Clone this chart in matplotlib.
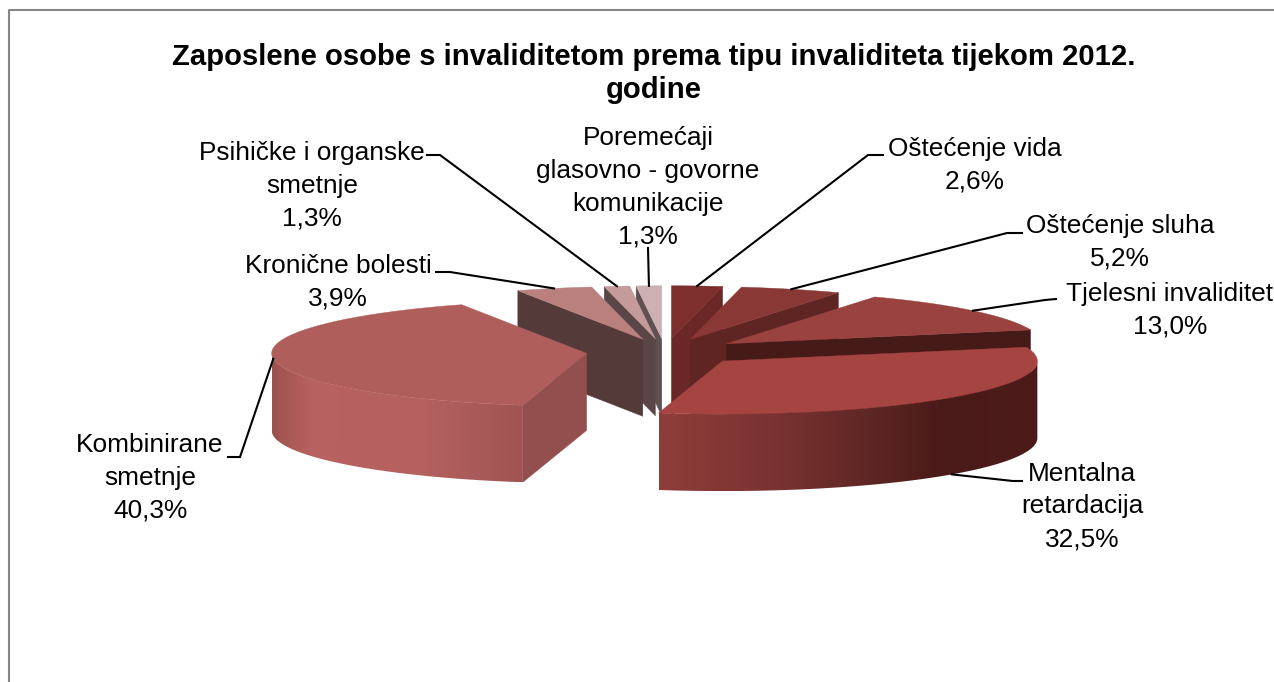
import numpy as np
import matplotlib
matplotlib.use('Agg')
import matplotlib.pyplot as plt
from matplotlib.colors import to_rgb
from matplotlib.patches import Polygon

plt.rcParams['font.family'] = ['Liberation Sans', 'DejaVu Sans']

# Podaci
naslov = 'Zaposlene osobe s invaliditetom prema tipu invaliditeta tijekom 2012.\ngodine'
kategorije = ['Oštećenje vida', 'Oštećenje sluha', 'Tjelesni invaliditet', 'Mentalna\nretardacija',
              'Kombinirane\nsmetnje', 'Kronične bolesti', 'Psihičke i organske\nsmetnje',
              'Poremećaji\nglasovno - govorne\nkomunikacije']
postoci = [2.6, 5.2, 13.0, 32.5, 40.3, 3.9, 1.3, 1.3]

# Boje: gornja ploha, rez
boje_gore = ['#7C2F2D', '#8A3835', '#9A423F', '#A64442', '#AF5E5B', '#BA807D', '#C49B9A', '#CDB1B2']
boje_rez = ['#6B2726', '#5F2523', '#451A17', '#451A17', '#934F4E', '#553A3A', '#5A4646', '#5F5151']
# Gradijent vanjske stijenke (po x)
stijenka = {3: [(0, '#8E3D3A'), (.3, '#7A3331'), (.55, '#5F2725'), (.75, '#4A1A18'), (1, '#4D1C1A')],
            4: [(0, '#9C514E'), (.15, '#B86260'), (.6, '#B46160'), (1, '#A05452')]}

# Geometrija pite u pikselima slike
CX, CY = 665, 352
RX, RY = 315, 53
H = 77
EXPLODE = 0.25

# Pozicije tekstova (sredina bloka) i prijelomi vodilica
tekst_xy = [(975, 165), (1120, 242.5), (1170, 310), (1082, 506.5), (150, 478), (338, 282.5), (312, 186), (648, 187.5)]
vodilice = [[(883, 155), (868, 155)], [(1022, 233), (1007, 233)], [(1056, 299), (1045, 300)],
            [(1022, 481), (1013, 481)], [(228, 457), (240, 457)], [(436, 272), (450, 272)],
            [(427, 155), (440, 155)], [(648, 248)]]

fig = plt.figure(figsize=(12.74, 6.82), dpi=100)
ax = fig.add_axes([0, 0, 1, 1])
ax.axis('off')

# Okvir
ax.plot([8.5, 8.5, 1290], [700, 9.5, 9.5], color='#868686', lw=1.5, clip_on=False, zorder=1)

ukupno = sum(postoci)
kutevi = np.concatenate([[0], np.cumsum(postoci)]) / ukupno * 360


def tocka(ox, oy, a, r=1.0):
    a = np.radians(a)
    return ox + r * RX * np.sin(a), oy - r * RY * np.cos(a)


def mix(stops, t):
    ts = [s[0] for s in stops]
    cs = np.array([to_rgb(s[1]) for s in stops])
    return np.stack([np.interp(t, ts, cs[:, i]) for i in range(3)], axis=-1)


centri = []
for i in range(len(postoci)):
    sred = (kutevi[i] + kutevi[i + 1]) / 2
    centri.append(tocka(CX, CY, sred, EXPLODE))

# Redoslijed crtanja: straga prema naprijed
redoslijed = [7, 6, 5, 0, 1, 2, 4, 3]
z = 2
for i in redoslijed:
    a0, a1 = kutevi[i], kutevi[i + 1]
    ox, oy = centri[i]

    # Radijalni rezovi
    for a, vidljiv in ((a0, np.sin(np.radians(a0)) < -1e-6), (a1, np.sin(np.radians(a1)) > 1e-6)):
        if vidljiv:
            px, py = tocka(ox, oy, a)
            ax.fill([ox, px, px, ox], [oy, py, py + H, oy + H], color=boje_rez[i],
                    lw=0.3, zorder=z)
            z += 1

    # Vanjska stijenka
    lo, hi = max(a0, 90), min(a1, 270)
    if hi > lo:
        t_kut = np.linspace(lo, hi, 120)
        xs, ys = tocka(ox, oy, t_kut)
        slika = mix(stijenka[i], np.linspace(0, 1, 256))[None, :, :]
        im = ax.imshow(slika, extent=(xs.min(), xs.max(), ys.max() + H, ys.min()),
                       aspect='auto', zorder=z, interpolation='bilinear')
        obris = Polygon(np.c_[np.r_[xs, xs[::-1]], np.r_[ys, ys[::-1] + H]],
                        closed=True, transform=ax.transData, fc='none', ec='none')
        ax.add_patch(obris)
        im.set_clip_path(obris)
        z += 1

    # Gornja ploha
    t_kut = np.linspace(a0, a1, 100)
    xs, ys = tocka(ox, oy, t_kut)
    ax.fill(np.r_[ox, xs], np.r_[oy, ys], color=boje_gore[i], lw=0.3, zorder=z)
    z += 1

# Vodilice i tekstovi
for i, naziv in enumerate(kategorije):
    sred = (kutevi[i] + kutevi[i + 1]) / 2
    ax_x, ax_y = tocka(*centri[i], sred)
    if i == 3:
        ax_y += H
    tocke = vodilice[i] + [(ax_x, ax_y)]
    ax.plot([p[0] for p in tocke], [p[1] for p in tocke], color='black', lw=1.5,
            zorder=z, solid_joinstyle='miter')
    postotak = f'{postoci[i]:.1f}'.replace('.', ',') + '%'
    ax.text(tekst_xy[i][0], tekst_xy[i][1], naziv + '\n' + postotak, ha='center', va='center',
            fontsize=18.9, linespacing=1.47, color='black', zorder=z + 1)

ax.text(654, 73.5, naslov, ha='center', va='center', fontsize=21.1, fontweight='bold',
        linespacing=1.19, color='black', zorder=z + 1)

ax.set_xlim(0, 1274)
ax.set_ylim(682, 0)

fig.savefig('out.png', dpi=100)
